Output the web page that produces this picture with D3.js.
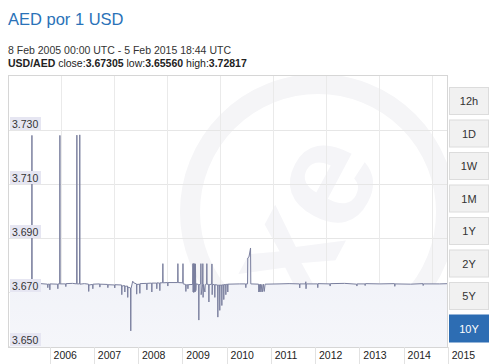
<!DOCTYPE html>
<html>
<head>
<meta charset="utf-8">
<script src="https://cdn.jsdelivr.net/npm/d3@7"></script>
<style>
  body { margin: 0; background: #fff; }
  text { font-family: "Liberation Sans", Arial, sans-serif; }
</style>
</head>
<body>
<div id="chart"></div>
<script>
var title = "AED por 1 USD";
var period = "8 Feb 2005 00:00 UTC - 5 Feb 2015 18:44 UTC";
var pair = "USD/AED";
var stats = [["close", "3.67305"], ["low", "3.65560"], ["high", "3.72817"]];

var yTicks = [3.650, 3.670, 3.690, 3.710, 3.730];
var yearLabels = ["2006", "2007", "2008", "2009", "2010", "2011", "2012", "2013", "2014", "2015"];
var rangeButtons = ["12h", "1D", "1W", "1M", "1Y", "2Y", "5Y", "10Y"];
var activeRange = "10Y";

// [date, rate]
var rateHistory = [
    ["2005-02-08", 3.6729], ["2005-04-10", 3.6728], ["2005-06-15", 3.6730],
    ["2005-08-06", 3.6729], ["2005-08-08", 3.7280], ["2005-08-10", 3.6729],
    ["2005-10-20", 3.6731], ["2005-12-15", 3.6729], ["2005-12-17", 3.6716],
    ["2005-12-19", 3.6729], ["2006-01-01", 3.6729], ["2006-01-03", 3.6708],
    ["2006-01-05", 3.6730], ["2006-03-08", 3.6729], ["2006-03-10", 3.6712],
    ["2006-03-12", 3.6730], ["2006-03-25", 3.6730], ["2006-03-27", 3.7280],
    ["2006-03-29", 3.6730], ["2006-05-13", 3.6730], ["2006-05-15", 3.6720],
    ["2006-05-17", 3.6731], ["2006-07-10", 3.6732], ["2006-08-12", 3.6730],
    ["2006-08-14", 3.7281], ["2006-08-16", 3.6730], ["2006-09-05", 3.6730],
    ["2006-09-07", 3.7282], ["2006-09-09", 3.6729], ["2006-10-15", 3.6731],
    ["2006-11-18", 3.6729], ["2006-11-20", 3.6702], ["2006-11-22", 3.6726],
    ["2006-12-22", 3.6728], ["2006-12-24", 3.6712], ["2006-12-26", 3.6729],
    ["2007-02-18", 3.6730], ["2007-02-20", 3.6718], ["2007-02-22", 3.6729],
    ["2007-04-25", 3.6728], ["2007-04-27", 3.6716], ["2007-04-29", 3.6727],
    ["2007-06-21", 3.6726], ["2007-06-23", 3.6715], ["2007-06-25", 3.6727],
    ["2007-08-18", 3.6726], ["2007-08-20", 3.6690], ["2007-08-22", 3.6722],
    ["2007-09-12", 3.6724], ["2007-09-14", 3.6700], ["2007-09-16", 3.6721],
    ["2007-10-06", 3.6722], ["2007-10-08", 3.6680], ["2007-10-10", 3.6718],
    ["2007-10-31", 3.6715], ["2007-11-02", 3.6556], ["2007-11-04", 3.6712],
    ["2007-11-18", 3.6740], ["2007-11-27", 3.6734], ["2007-12-19", 3.6730],
    ["2007-12-21", 3.6692], ["2007-12-23", 3.6728], ["2008-01-14", 3.6729],
    ["2008-01-16", 3.6695], ["2008-01-18", 3.6731], ["2008-03-12", 3.6732],
    ["2008-03-14", 3.6708], ["2008-03-16", 3.6732], ["2008-04-22", 3.6733],
    ["2008-04-24", 3.6700], ["2008-04-26", 3.6733], ["2008-06-02", 3.6733],
    ["2008-06-04", 3.6712], ["2008-06-06", 3.6734], ["2008-06-27", 3.6733],
    ["2008-06-29", 3.6705], ["2008-07-01", 3.6734], ["2008-07-22", 3.6734],
    ["2008-07-24", 3.6805], ["2008-07-26", 3.6734], ["2008-09-01", 3.6735],
    ["2008-09-03", 3.6722], ["2008-09-05", 3.6735], ["2008-11-23", 3.6735],
    ["2008-11-25", 3.6805], ["2008-11-27", 3.6735], ["2009-01-04", 3.6734],
    ["2009-01-06", 3.6805], ["2009-01-08", 3.6730], ["2009-01-28", 3.6728],
    ["2009-01-30", 3.6702], ["2009-02-01", 3.6726], ["2009-02-14", 3.6727],
    ["2009-02-16", 3.6712], ["2009-02-18", 3.6727], ["2009-03-27", 3.6728],
    ["2009-03-29", 3.6805], ["2009-03-31", 3.6700], ["2009-04-03", 3.6805],
    ["2009-04-05", 3.6698], ["2009-04-08", 3.6804], ["2009-04-10", 3.6702],
    ["2009-04-13", 3.6805], ["2009-04-16", 3.6700], ["2009-04-19", 3.6804],
    ["2009-04-22", 3.6705], ["2009-04-25", 3.6730], ["2009-05-15", 3.6728],
    ["2009-05-17", 3.6596], ["2009-05-19", 3.6727], ["2009-06-01", 3.6730],
    ["2009-06-03", 3.6805], ["2009-06-05", 3.6690], ["2009-06-17", 3.6728],
    ["2009-06-19", 3.6805], ["2009-06-21", 3.6680], ["2009-06-24", 3.6728],
    ["2009-07-06", 3.6700], ["2009-07-09", 3.6728], ["2009-07-20", 3.6729],
    ["2009-07-22", 3.6805], ["2009-07-24", 3.6729], ["2009-08-06", 3.6728],
    ["2009-08-08", 3.6663], ["2009-08-10", 3.6727], ["2009-08-31", 3.6729],
    ["2009-09-02", 3.6804], ["2009-09-04", 3.6690], ["2009-09-07", 3.6728],
    ["2009-09-24", 3.6727], ["2009-09-26", 3.6680], ["2009-09-28", 3.6727],
    ["2009-10-19", 3.6726], ["2009-10-21", 3.6607], ["2009-10-23", 3.6725],
    ["2009-11-04", 3.6726], ["2009-11-06", 3.6632], ["2009-11-08", 3.6725],
    ["2009-11-21", 3.6726], ["2009-11-23", 3.6650], ["2009-11-25", 3.6726],
    ["2009-12-07", 3.6727], ["2009-12-09", 3.6672], ["2009-12-11", 3.6727],
    ["2009-12-24", 3.6728], ["2009-12-26", 3.6690], ["2009-12-28", 3.6728],
    ["2010-01-09", 3.6729], ["2010-01-11", 3.6700], ["2010-01-13", 3.6729],
    ["2010-04-20", 3.6730], ["2010-06-07", 3.6730], ["2010-06-09", 3.6716],
    ["2010-06-11", 3.6730], ["2010-06-23", 3.6730], ["2010-06-25", 3.6826],
    ["2010-07-05", 3.6830], ["2010-07-18", 3.6863], ["2010-07-20", 3.6730],
    ["2010-09-22", 3.6729], ["2010-09-24", 3.6700], ["2010-09-28", 3.6728],
    ["2010-10-02", 3.6701], ["2010-10-07", 3.6729], ["2010-10-12", 3.6700],
    ["2010-10-19", 3.6728], ["2010-10-25", 3.6701], ["2010-11-01", 3.6729],
    ["2010-11-08", 3.6702], ["2010-11-15", 3.6729], ["2011-03-10", 3.6730],
    ["2011-06-01", 3.6731], ["2011-08-26", 3.6730], ["2011-08-28", 3.6715],
    ["2011-08-30", 3.6730], ["2011-10-15", 3.6730], ["2011-10-17", 3.6738],
    ["2011-10-19", 3.6712], ["2011-10-21", 3.6730], ["2012-01-22", 3.6730],
    ["2012-01-24", 3.6716], ["2012-01-26", 3.6731], ["2012-05-03", 3.6730],
    ["2012-05-05", 3.6722], ["2012-05-07", 3.6731], ["2012-09-01", 3.6732],
    ["2012-12-10", 3.6729], ["2012-12-12", 3.6722], ["2012-12-14", 3.6730],
    ["2013-02-16", 3.6730], ["2013-02-18", 3.6724], ["2013-02-20", 3.6731],
    ["2013-06-19", 3.6730], ["2013-10-19", 3.6731], ["2013-10-21", 3.6721],
    ["2013-10-23", 3.6730], ["2014-03-01", 3.6729], ["2014-06-10", 3.6731],
    ["2014-06-12", 3.6724], ["2014-06-14", 3.6730], ["2014-10-27", 3.6730],
    ["2015-01-10", 3.6731], ["2015-02-05", 3.67305]
];

var W = 499, H = 364;
var plot = { left: 8, right: 447, top: 75, bottom: 347 };

var svg = d3.select("#chart").append("svg")
    .attr("width", W).attr("height", H);

var parse = d3.utcParse("%Y-%m-%d");
var data = rateHistory.map(function(d) { return { date: parse(d[0]), value: d[1] }; });

var x = d3.scaleUtc()
    .domain([parse("2005-02-08"), parse("2015-02-05")])
    .range([10, 452]);
var y = d3.scaleLinear()
    .domain([3.65, 3.73])
    .range([346, 130]);

// header
svg.append("text").attr("x", 8).attr("y", 25)
    .style("font-size", "16.5px").style("fill", "#2a72b8")
    .text(title);
svg.append("text").attr("x", 8).attr("y", 54)
    .style("font-size", "10.5px").style("fill", "#333")
    .text(period);
var info = svg.append("text").attr("x", 8).attr("y", 67)
    .style("font-size", "10.5px").style("fill", "#222");
info.append("tspan").style("font-weight", "bold").text(pair);
stats.forEach(function(s) {
    info.append("tspan").text(" " + s[0] + ":");
    info.append("tspan").style("font-weight", "bold").text(s[1]);
});

var defs = svg.append("defs");
defs.append("clipPath").attr("id", "plotclip").append("rect")
    .attr("x", plot.left).attr("y", plot.top)
    .attr("width", plot.right - plot.left).attr("height", plot.bottom - plot.top);
var grad = defs.append("linearGradient").attr("id", "fillgrad")
    .attr("x1", 0).attr("y1", 0).attr("x2", 0).attr("y2", 1);
grad.append("stop").attr("offset", "0%").attr("stop-color", "#eaecf5");
grad.append("stop").attr("offset", "100%").attr("stop-color", "#f5f6fa");

var g = svg.append("g").attr("clip-path", "url(#plotclip)");

// watermark
g.append("circle").attr("cx", 318).attr("cy", 212).attr("r", 128)
    .attr("fill", "none").attr("stroke", "#f5f5f7").attr("stroke-width", 20);
g.append("text")
    .attr("transform", "translate(300,215) rotate(-62)")
    .attr("text-anchor", "middle").attr("dy", "0.35em")
    .style("font-size", "150px").style("font-weight", "bold")
    .style("fill", "#f5f5f8")
    .text("xe");

// grid
g.selectAll(".hgrid").data(yTicks).enter().append("line")
    .attr("x1", plot.left).attr("x2", plot.right)
    .attr("y1", function(d) { return Math.round(y(d)) + 0.5; })
    .attr("y2", function(d) { return Math.round(y(d)) + 0.5; })
    .attr("stroke", "#e6e6e6");
g.selectAll(".vgrid").data(d3.range(61, plot.right, 53)).enter().append("line")
    .attr("x1", function(d) { return d + 0.5; }).attr("x2", function(d) { return d + 0.5; })
    .attr("y1", plot.top).attr("y2", plot.bottom)
    .attr("stroke", "#eaeaea");

// area + line
var area = d3.area()
    .x(function(d) { return x(d.date); })
    .y0(plot.bottom)
    .y1(function(d) { return y(d.value); });
var line = d3.line()
    .x(function(d) { return x(d.date); })
    .y(function(d) { return y(d.value); });

g.append("path").datum(data).attr("d", area).attr("fill", "url(#fillgrad)");
g.append("path").datum(data).attr("d", line)
    .attr("fill", "none").attr("stroke", "#7a7f9e").attr("stroke-width", 1);

// borders
svg.append("rect")
    .attr("x", plot.left + 0.5).attr("y", plot.top + 0.5)
    .attr("width", plot.right - plot.left).attr("height", plot.bottom - plot.top)
    .attr("fill", "none").attr("stroke", "#d6d6d6");

// y labels
var yl = svg.selectAll(".ylab").data(yTicks).enter().append("g")
    .attr("transform", function(d) { return "translate(10," + Math.round(y(d)) + ")"; });
yl.append("rect").attr("x", 0).attr("y", -13).attr("width", 31).attr("height", 13)
    .attr("fill", "#e6e6f2");
yl.append("text").attr("x", 2).attr("y", -2.5)
    .style("font-size", "10.5px").style("fill", "#333")
    .text(function(d) { return d3.format(".3f")(d); });

// x axis labels
var years = yearLabels.map(function(s) { return { label: s, date: parse(s + "-01-01") }; });
svg.selectAll(".xtick").data(years).enter().append("line")
    .attr("x1", function(d) { return Math.round(x(d.date)) + 0.5; })
    .attr("x2", function(d) { return Math.round(x(d.date)) + 0.5; })
    .attr("y1", plot.bottom).attr("y2", H)
    .attr("stroke", "#e2e2e2");
svg.selectAll(".xlab").data(years).enter().append("text")
    .attr("x", function(d) { return x(d.date) + 4; })
    .attr("y", 359)
    .style("font-size", "10.5px").style("fill", "#222")
    .text(function(d) { return d.label; });

// range buttons
var btn = svg.selectAll(".btn").data(rangeButtons).enter().append("g")
    .attr("transform", function(d, i) { return "translate(449," + (87 + i * 32.5) + ")"; });
btn.append("rect").attr("x", 0.5).attr("y", 0.5).attr("width", 39).attr("height", 27)
    .attr("fill", function(d) { return d === activeRange ? "#2d6db3" : "#f1f1f1"; })
    .attr("stroke", function(d) { return d === activeRange ? "#2d6db3" : "#dcdcdc"; });
btn.append("text").attr("x", 20).attr("y", 18)
    .attr("text-anchor", "middle")
    .style("font-size", "11px")
    .style("fill", function(d) { return d === activeRange ? "#fff" : "#333"; })
    .text(function(d) { return d; });
</script>
</body>
</html>
